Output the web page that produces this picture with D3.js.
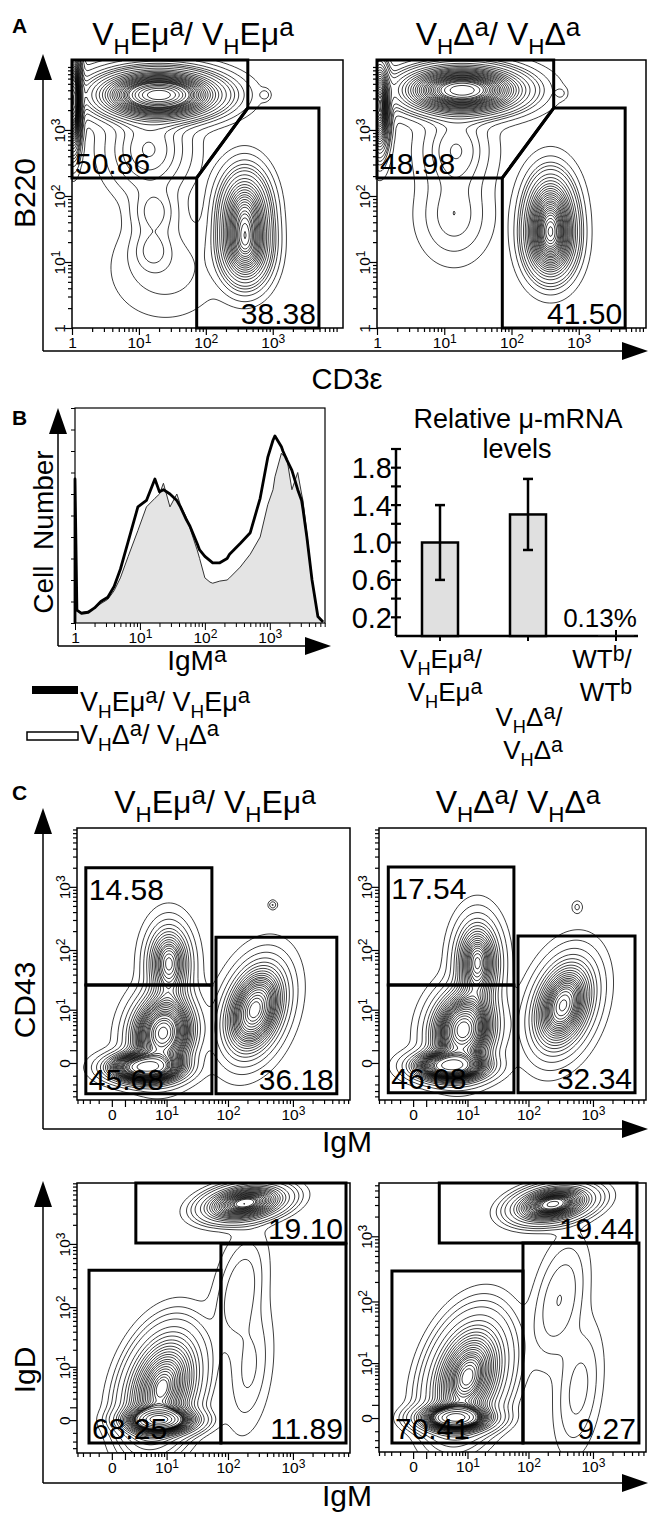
<!DOCTYPE html>
<html>
<head>
<meta charset="utf-8">
<script src="https://cdn.jsdelivr.net/npm/d3@7"></script>
<style>
  body { margin: 0; background: #fff; }
  svg { display: block; }
  text { font-family: "Liberation Sans", Arial, Helvetica, sans-serif; fill: #000; }
</style>
</head>
<body>
<div id="fig"></div>
<script>
// ---------------- data ----------------
// populations: [x value, y value, spread x (decades), spread y (decades), weight, correlation]
var popsA_emu = [
  [20, 3400, 0.48, 0.19, 1.0, 0],
  [1.05, 2800, 0.06, 0.38, 0.22, 0],
  [14, 500, 0.35, 0.38, 0.12, 0],
  [17, 57, 0.2, 0.22, 0.024, 0],
  [16, 15, 0.18, 0.2, 0.016, 0],
  [25, 8, 0.5, 0.45, 0.05, 0],
  [380, 55, 0.2, 0.34, 0.34, 0],
  [390, 16, 0.2, 0.3, 0.3, 0],
  [760, 3400, 0.05, 0.05, 0.0006, 0]
];
var popsA_delta = [
  [18.5, 4000, 0.48, 0.19, 0.95, 0],
  [1.1, 2200, 0.08, 0.36, 0.2, 0],
  [15, 500, 0.3, 0.35, 0.08, 0],
  [14, 50, 0.3, 0.38, 0.06, 0],
  [380, 50, 0.2, 0.35, 0.38, 0],
  [380, 19, 0.2, 0.3, 0.3, 0],
  [540, 3600, 0.05, 0.05, 0.0006, 0]
];
// gates as polygons in data units (1e6 = top edge of the plot)
var gatesA = [
  [[1, 1e6], [424, 1e6], [424, 2150], [73, 188], [1, 188]],
  [[73, 188], [424, 2150], [4900, 2150], [4900, 1], [73, 1]]
];
var pctA_emu = ["50.86", "38.38"];
var pctA_delta = ["48.98", "41.50"];

// histogram IgM^a
var igmaBins   = [1, 1.07, 1.26, 1.6, 2, 2.5, 3.2, 4, 5, 6.6, 9.3, 12.6, 17, 20, 23, 29, 37, 42, 52, 59, 76, 83, 100, 120, 132, 170, 220, 240, 350, 500, 710, 930, 1120, 1200, 1510, 1590, 1820, 2190, 2690, 3090, 3240, 3720, 4470, 5500, 6600];
var histEmu    = [67, 6, 4.5, 5, 7, 10, 12, 17, 25, 38, 54, 57, 67, 61, 62, 60, 57, 54, 48, 45, 37, 34, 31, 29, 28, 28, 30, 32, 37, 42, 58, 77, 85, 87, 82, 80, 76, 71, 62, 57, 53, 40, 20, 3, 0.5];
var histDelta  = [67, 6, 5, 5.5, 7, 9, 11, 15, 21, 31, 43, 54, 58, 60, 65, 54, 60, 55, 49, 44, 34, 30, 21, 19, 18.5, 19.5, 20, 21, 26, 32, 40, 55, 62, 68, 79, 78, 77, 62, 70, 60, 57, 42, 20, 3, 0.5];

// relative mu-mRNA
var mrnaGroups = ["VHEmu", "VHDelta", "WT"];
var mrnaLabels = [["V_HEμ^a/", "V_HEμ^a"], ["V_HΔ^a/", "V_HΔ^a"], ["WT^b/", "WT^b"]];
var mrnaMean = [1.0, 1.3, 0.0013];
var mrnaErr = [0.4, 0.38, 0];
var mrnaTicks = [0.2, 0.6, 1.0, 1.4, 1.8];

// panel C: CD43 vs IgM
var popsC1 = [
  [8.6, 3.3, 0.28, 0.35, 0.42, 0.1],
  [3.7, -0.3, 0.32, 0.13, 0.22, 0],
  [11, 62, 0.2, 0.35, 0.15, 0],
  [260, 10, 0.28, 0.42, 0.36, 0.3],
  [490, 520, 0.04, 0.04, 0.0005, 0]
];
var popsC2 = [
  [8.3, 3.9, 0.28, 0.35, 0.4, 0.1],
  [4.6, -0.2, 0.32, 0.13, 0.2, 0],
  [15, 64, 0.2, 0.38, 0.18, 0],
  [345, 12, 0.28, 0.42, 0.32, 0.3],
  [570, 480, 0.05, 0.06, 0.0005, 0]
];
var gatesC1 = [
  [[-2.55, 27], [56, 27], [56, 2000], [-2.55, 2000]],
  [[-2.55, -3.5], [56, -3.5], [56, 27], [-2.55, 27]],
  [[65, -3.5], [4700, -3.5], [4700, 160], [65, 160]]
];
var gatesC2 = [
  [[-2.4, 27], [59, 27], [59, 2060], [-2.4, 2060]],
  [[-2.4, -3.3], [59, -3.3], [59, 27], [-2.4, 27]],
  [[68.5, -3.3], [4450, -3.3], [4450, 167], [68.5, 167]]
];
var pctC1 = ["14.58", "45.68", "36.18"];
var pctC2 = ["17.54", "46.08", "32.34"];

// panel C: IgD vs IgM
var popsC3 = [
  [8.2, 3.7, 0.32, 0.48, 0.55, 0.3],
  [7.6, 0, 0.3, 0.11, 0.2, 0],
  [183, 4400, 0.34, 0.15, 0.2, 0.3],
  [150, 180, 0.25, 0.55, 0.03, 0.4],
  [215, 9, 0.22, 0.6, 0.022, 0.3]
];
var popsC4 = [
  [10, 5.5, 0.32, 0.48, 0.55, 0.3],
  [5.8, 0, 0.3, 0.11, 0.2, 0],
  [240, 3100, 0.32, 0.15, 0.2, 0.3],
  [300, 105, 0.25, 0.55, 0.03, 0.4],
  [600, 3, 0.22, 0.6, 0.022, 0.3]
];
var gatesC3 = [
  [[2.26, 1e6], [6500, 1e6], [6500, 1034], [2.26, 1034]],
  [[-2.1, -2.2], [77.6, -2.2], [77.6, 386], [-2.1, 386]],
  [[77.6, -2.2], [6500, -2.2], [6500, 1000], [77.6, 1000]]
];
var gatesC4 = [
  [[2.6, 1e6], [4774, 1e6], [4774, 787], [2.6, 787]],
  [[-1.9, -2.4], [82, -2.4], [82, 294], [-1.9, 294]],
  [[82, -2.4], [5117, -2.4], [5117, 787], [82, 787]]
];
var pctC3 = ["19.10", "68.25", "11.89"];
var pctC4 = ["19.44", "70.41", "9.27"];

var logTicks = [1, 2, 3, 4, 5, 6, 7, 8, 9, 10, 20, 30, 40, 50, 60, 70, 80, 90,
  100, 200, 300, 400, 500, 600, 700, 800, 900, 1000, 2000, 3000, 4000, 5000, 6000, 7000, 8000, 9000];
var symTicks = [-4, -3, -2, -1, 0].concat(logTicks);

// ---------------- drawing ----------------
var W = 649, H = 1517;
var svg = d3.select("#fig").append("svg").attr("width", W).attr("height", H);
var probLevels = d3.range(1, 28).map(function (i) { return i * 0.035; }).concat([0.975, 0.993]);
var clipN = 0;

function rich(parent, x, y, str, size, anchor) {
  var t = parent.append("text").attr("x", x).attr("y", y)
    .attr("font-size", size).attr("text-anchor", anchor || "start");
  var toks = [], i = 0;
  while (i < str.length) {
    var c = str[i];
    if (c === "_" || c === "^") { toks.push({ k: c === "_" ? "sub" : "sup", s: str[i + 1] }); i += 2; }
    else {
      if (toks.length && toks[toks.length - 1].k === "n") toks[toks.length - 1].s += c;
      else toks.push({ k: "n", s: c });
      i++;
    }
  }
  var shift = 0;
  toks.forEach(function (tk) {
    var target = tk.k === "sub" ? 0.27 * size : tk.k === "sup" ? -0.28 * size : 0;
    t.append("tspan").attr("dy", target - shift)
      .attr("font-size", tk.k === "sub" ? size * 0.7 : tk.k === "sup" ? size * 0.82 : size)
      .text(tk.s);
    shift = target;
  });
  return t;
}

function arrows(x, yTop, yBot, xRight) {
  var g = svg.append("g");
  g.append("line").attr("x1", x).attr("y1", yTop + 20).attr("x2", x).attr("y2", yBot)
    .attr("stroke", "#000").attr("stroke-width", 1.5);
  g.append("line").attr("x1", x).attr("y1", yBot).attr("x2", xRight - 20).attr("y2", yBot)
    .attr("stroke", "#000").attr("stroke-width", 1.5);
  g.append("path").attr("d", "M" + x + "," + yTop + "L" + (x - 9) + "," + (yTop + 26) + "L" + (x + 9) + "," + (yTop + 26) + "Z");
  g.append("path").attr("d", "M" + xRight + "," + yBot + "L" + (xRight - 26) + "," + (yBot - 9) + "L" + (xRight - 26) + "," + (yBot + 9) + "Z");
}

var expo = { 10: "1", 100: "2", 1000: "3" };
function isMajor(d) { return d === 0 || d === 1 || d === 10 || d === 100 || d === 1000; }
// "10" with a real superscript tspan
function powerLabels(sel) {
  sel.selectAll(".tick text").each(function (d) {
    if (!expo[d]) return;
    var t = d3.select(this).text("10");
    t.append("tspan").attr("dy", "-0.45em").attr("font-size", "78%").text(expo[d]);
  });
}

function facs(spec) {
  var xs = spec.x.clamp(true), ys = spec.y.clamp(true);
  var fx0 = xs.range()[0], fx1 = xs.range()[1], fy1 = ys.range()[0], fy0 = ys.range()[1];
  var g = svg.append("g");
  var clipId = "clip" + (clipN++);
  g.append("clipPath").attr("id", clipId).append("rect")
    .attr("x", fx0).attr("y", fy0).attr("width", fx1 - fx0).attr("height", fy1 - fy0);

  // density grid from the population table
  var step = 2, nx = Math.ceil((fx1 - fx0) / step), ny = Math.ceil((fy1 - fy0) / step);
  var vals = new Float64Array(nx * ny);
  spec.pops.forEach(function (p) {
    var cx = xs(p[0]), cy = ys(p[1]), sx = p[2] * spec.ppd, sy = p[3] * spec.ppd, w = p[4], r = p[5] || 0;
    var norm = w / (sx * sy * Math.sqrt(1 - r * r));
    for (var j = 0; j < ny; j++) {
      var dy = -((fy0 + (j + 0.5) * step) - cy) / sy;
      for (var i = 0; i < nx; i++) {
        var dx = ((fx0 + (i + 0.5) * step) - cx) / sx;
        var q = (dx * dx - 2 * r * dx * dy + dy * dy) / (1 - r * r);
        if (q < 80) vals[j * nx + i] += norm * Math.exp(-q / 2);
      }
    }
  });
  var sorted = Array.from(vals).sort(function (a, b) { return b - a; });
  var total = d3.sum(sorted), cum = 0, k = 0, th = [];
  probLevels.forEach(function (f) {
    while (k < sorted.length && cum < f * total) { cum += sorted[k++]; }
    th.push(sorted[Math.max(0, k - 1)]);
  });
  th.sort(function (a, b) { return a - b; });
  var contours = d3.contours().size([nx, ny]).thresholds(th)(vals);
  var path = d3.geoPath(d3.geoIdentity().scale(step).translate([fx0, fy0]));
  g.append("g").attr("clip-path", "url(#" + clipId + ")")
    .selectAll("path").data(contours).join("path")
    .attr("d", path).attr("fill", "none").attr("stroke", "#000").attr("stroke-width", 0.75);

  // frame
  g.append("rect").attr("x", fx0).attr("y", fy0).attr("width", fx1 - fx0).attr("height", fy1 - fy0)
    .attr("fill", "none").attr("stroke", "#000").attr("stroke-width", 1.5);

  // gates
  spec.gates.forEach(function (gate, gi) {
    var pts = gate.map(function (p) { return [xs(p[0]), ys(p[1])]; });
    g.append("path").attr("d", "M" + pts.join("L") + "Z")
      .attr("fill", "none").attr("stroke", "#000").attr("stroke-width", 3).attr("stroke-linejoin", "miter");
    var minX = d3.min(pts, function (p) { return p[0]; }), maxX = d3.max(pts, function (p) { return p[0]; });
    var minY = d3.min(pts, function (p) { return p[1]; }), maxY = d3.max(pts, function (p) { return p[1]; });
    var c = spec.corners[gi], t = g.append("text").attr("font-size", 30).text(spec.pct[gi]);
    if (c === "bl") t.attr("x", minX + 3).attr("y", maxY - 4);
    else if (c === "br") t.attr("x", maxX - 3).attr("y", maxY - 4).attr("text-anchor", "end");
    else if (c === "tl") t.attr("x", minX + 3).attr("y", minY + 32);
  });

  // axes
  var ticks = spec.ticks.filter(function (d) { var v = xs.domain(); return d >= v[0] && d <= v[1] && d < 10000; });
  var fmt = function (d) { return isMajor(d) ? (d === 0 ? "0" : (spec.sym && d === 1 ? "" : String(d))) : ""; };
  var ax = g.append("g").attr("transform", "translate(0," + fy1 + ")")
    .call(d3.axisBottom(xs).tickValues(ticks).tickSize(4).tickFormat(fmt));
  ax.select(".domain").remove();
  ax.attr("font-family", null).attr("font-size", 15.5);
  ax.selectAll(".tick").filter(isMajor).select("line").attr("y2", 7);
  ax.selectAll("text").attr("y", 9);
  powerLabels(ax);
  var yticks = spec.ticks.filter(function (d) { var v = ys.domain(); return d >= v[0] && d <= v[1] && d < 10000; });
  var ay = g.append("g").attr("transform", "translate(" + fx0 + ",0)")
    .call(d3.axisLeft(ys).tickValues(yticks).tickSize(4).tickFormat(fmt));
  ay.select(".domain").remove();
  ay.attr("font-family", null).attr("font-size", 15.5);
  ay.selectAll(".tick").filter(isMajor).select("line").attr("x2", -7);
  ay.selectAll("text").attr("x", 0).attr("y", -7).attr("dy", 0)
    .attr("text-anchor", "middle").attr("transform", "rotate(-90)");
  powerLabels(ay);
  g.selectAll(".tick line").attr("stroke-width", 1.2);
  return g;
}

// ---------------- panel A ----------------
svg.append("text").attr("x", 12).attr("y", 33).attr("font-size", 21).attr("font-weight", "bold").text("A");
rich(svg, 193, 45, "V_HEμ^a/ V_HEμ^a", 32, "middle");
rich(svg, 498, 45, "V_HΔ^a/ V_HΔ^a", 32, "middle");
arrows(43, 54, 351, 648);
facs({
  x: d3.scaleLog().domain([1, Math.pow(10, 4.05)]).range([72, 343]),
  y: d3.scaleLog().domain([1, Math.pow(10, 4.06)]).range([328, 60]),
  ppd: 66.5, pops: popsA_emu, gates: gatesA, pct: pctA_emu, corners: ["bl", "br"], ticks: logTicks
});
facs({
  x: d3.scaleLog().domain([1, Math.pow(10, 4.0)]).range([377, 646]),
  y: d3.scaleLog().domain([1, Math.pow(10, 4.06)]).range([328, 60]),
  ppd: 66.5, pops: popsA_delta, gates: gatesA, pct: pctA_delta, corners: ["bl", "br"], ticks: logTicks
});
svg.append("text").attr("transform", "translate(35,193) rotate(-90)").attr("text-anchor", "middle")
  .attr("font-size", 30).text("B220");
svg.append("text").attr("x", 347).attr("y", 389).attr("text-anchor", "middle").attr("font-size", 29).text("CD3ε");

// ---------------- panel B: histogram ----------------
svg.append("text").attr("x", 12).attr("y", 425).attr("font-size", 21).attr("font-weight", "bold").text("B");
arrows(58, 408, 646, 331);
var xsH = d3.scaleLog().domain([1, Math.pow(10, 3.85)]).range([75, 325]);
var ysH = d3.scaleLinear().domain([0, 100]).range([623, 408]);
var hg = svg.append("g");
var thinPts = [[igmaBins[0], 0]].concat(d3.zip(igmaBins, histDelta));
var thickPts = [[igmaBins[0], 0]].concat(d3.zip(igmaBins, histEmu));
hg.append("path").datum(thinPts)
  .attr("d", d3.area().x(function (d) { return xsH(d[0]); }).y0(ysH(0)).y1(function (d) { return ysH(d[1]); }))
  .attr("fill", "#e4e4e4");
hg.append("path").datum(thinPts)
  .attr("d", d3.line().x(function (d) { return xsH(d[0]); }).y(function (d) { return ysH(d[1]); }))
  .attr("fill", "none").attr("stroke", "#333").attr("stroke-width", 1);
hg.append("path").datum(thickPts)
  .attr("d", d3.line().x(function (d) { return xsH(d[0]); }).y(function (d) { return ysH(d[1]); }))
  .attr("fill", "none").attr("stroke", "#000").attr("stroke-width", 2.8).attr("stroke-linejoin", "round");
hg.append("rect").attr("x", 75).attr("y", 408).attr("width", 250).attr("height", 215)
  .attr("fill", "none").attr("stroke", "#000").attr("stroke-width", 1.2);
var hax = hg.append("g").attr("transform", "translate(0,623)")
  .call(d3.axisBottom(xsH).tickValues(logTicks.filter(function (d) { return d < 7079; })).tickSize(4)
    .tickFormat(function (d) { return isMajor(d) ? String(d) : ""; }));
hax.select(".domain").remove();
hax.attr("font-family", null).attr("font-size", 15.5);
hax.selectAll(".tick").filter(isMajor).select("line").attr("y2", 7);
hax.selectAll("text").attr("y", 9);
powerLabels(hax);
var hay = hg.append("g").attr("transform", "translate(75,0)")
  .call(d3.axisLeft(ysH).ticks(10).tickSize(4).tickFormat(""));
hay.select(".domain").remove();
svg.append("text").attr("transform", "translate(53,532) rotate(-90)").attr("text-anchor", "middle")
  .attr("font-size", 28).text("Cell\u00a0\u00a0Number");
rich(svg, 197, 670, "IgM^a", 28, "middle");
// legend
svg.append("rect").attr("x", 32).attr("y", 686).attr("width", 46).attr("height", 8).attr("fill", "#000");
rich(svg, 80, 711, "V_HEμ^a/ V_HEμ^a", 27, "start");
svg.append("rect").attr("x", 27).attr("y", 732).attr("width", 51).attr("height", 8)
  .attr("fill", "#fff").attr("stroke", "#000").attr("stroke-width", 1.5);
rich(svg, 80, 744, "V_HΔ^a/ V_HΔ^a", 27, "start");

// ---------------- panel B: bar chart ----------------
var xsB = d3.scalePoint().domain(mrnaGroups).range([440, 616]);
var ysB = d3.scaleLinear().domain([0, 2]).range([636, 449]);
var bg = svg.append("g");
bg.append("text").attr("x", 518).attr("y", 428).attr("text-anchor", "middle").attr("font-size", 27).text("Relative μ-mRNA");
bg.append("text").attr("x", 517).attr("y", 458).attr("text-anchor", "middle").attr("font-size", 27).text("levels");
bg.append("line").attr("x1", 396).attr("x2", 396).attr("y1", ysB(0)).attr("y2", ysB(2))
  .attr("stroke", "#000").attr("stroke-width", 2.5);
bg.selectAll("line.yt").data(d3.range(1, 11).map(function (i) { return i * 0.2; })).join("line").attr("class", "yt")
  .attr("x1", 391).attr("x2", 401).attr("y1", function (d) { return ysB(d); }).attr("y2", function (d) { return ysB(d); })
  .attr("stroke", "#000").attr("stroke-width", 2.2);
bg.selectAll("text.yl").data(mrnaTicks).join("text").attr("class", "yl")
  .attr("x", 392).attr("y", function (d) { return ysB(d); }).attr("dy", "0.36em")
  .attr("text-anchor", "end").attr("font-size", 29).text(d3.format(".1f"));
bg.append("line").attr("x1", 396).attr("x2", 638).attr("y1", ysB(0)).attr("y2", ysB(0))
  .attr("stroke", "#000").attr("stroke-width", 2.5);
bg.selectAll("line.xt").data(mrnaGroups).join("line").attr("class", "xt")
  .attr("x1", xsB).attr("x2", xsB).attr("y1", ysB(0) - 6).attr("y2", ysB(0) + 5)
  .attr("stroke", "#000").attr("stroke-width", 2);
bg.selectAll("rect.bar").data(mrnaGroups).join("rect").attr("class", "bar")
  .attr("x", function (d) { return xsB(d) - 18; }).attr("width", 36)
  .attr("y", function (d, i) { return ysB(mrnaMean[i]); })
  .attr("height", function (d, i) { return ysB(0) - ysB(mrnaMean[i]); })
  .attr("fill", "#e0e0e0")
  .attr("stroke", function (d, i) { return ysB(0) - ysB(mrnaMean[i]) > 2 ? "#000" : "none"; })
  .attr("stroke-width", 2.5);
mrnaGroups.forEach(function (grp, i) {
  if (!mrnaErr[i]) return;
  var x = xsB(grp), lo = ysB(mrnaMean[i] - mrnaErr[i]), hi = ysB(mrnaMean[i] + mrnaErr[i]);
  bg.append("line").attr("x1", x).attr("x2", x).attr("y1", lo).attr("y2", hi).attr("stroke", "#000").attr("stroke-width", 2.5);
  [lo, hi].forEach(function (y) {
    bg.append("line").attr("x1", x - 5).attr("x2", x + 5).attr("y1", y).attr("y2", y).attr("stroke", "#000").attr("stroke-width", 2.5);
  });
});
bg.append("text").attr("x", 600).attr("y", 627).attr("text-anchor", "middle").attr("font-size", 26)
  .text(d3.format(".2%")(mrnaMean[2]));
mrnaGroups.forEach(function (grp, i) {
  var x = Math.min(xsB(grp) + 1, 602), y0 = i === 1 ? 726 : 668;
  rich(bg, x, y0, mrnaLabels[i][0], 26, "middle");
  rich(bg, x + 4, y0 + 33, mrnaLabels[i][1], 26, "middle");
});

// ---------------- panel C ----------------
svg.append("text").attr("x", 12).attr("y", 800).attr("font-size", 21).attr("font-weight", "bold").text("C");
rich(svg, 215, 813, "V_HEμ^a/ V_HEμ^a", 32, "middle");
rich(svg, 518, 813, "V_HΔ^a/ V_HΔ^a", 32, "middle");
arrows(43, 808, 1129, 648);
arrows(43, 1181, 1483, 648);
var cornersC = ["tl", "bl", "br"], cornersC2 = ["br", "bl", "br"];
facs({
  x: d3.scaleSymlog().constant(1.7).domain([-4.1, 7480]).range([77, 350]),
  y: d3.scaleSymlog().constant(1.7).domain([-4.8, 8440]).range([1100, 828]),
  ppd: 62, pops: popsC1, gates: gatesC1, pct: pctC1, corners: cornersC, ticks: symTicks, sym: true
});
facs({
  x: d3.scaleSymlog().constant(1.7).domain([-4, 6570]).range([379, 646]),
  y: d3.scaleSymlog().constant(1.7).domain([-4.8, 8440]).range([1100, 828]),
  ppd: 62, pops: popsC2, gates: gatesC2, pct: pctC2, corners: cornersC, ticks: symTicks, sym: true
});
facs({
  x: d3.scaleSymlog().constant(1.7).domain([-4.1, 7480]).range([77, 350]),
  y: d3.scaleSymlog().constant(1.7).domain([-3.9, 9100]).range([1453, 1183]),
  ppd: 62, pops: popsC3, gates: gatesC3, pct: pctC3, corners: cornersC2, ticks: symTicks, sym: true
});
facs({
  x: d3.scaleSymlog().constant(1.7).domain([-4, 6570]).range([379, 646]),
  y: d3.scaleSymlog().constant(1.7).domain([-3.9, 6500]).range([1452, 1183]),
  ppd: 62, pops: popsC4, gates: gatesC4, pct: pctC4, corners: cornersC2, ticks: symTicks, sym: true
});
svg.append("text").attr("transform", "translate(35,1000) rotate(-90)").attr("text-anchor", "middle")
  .attr("font-size", 30).text("CD43");
svg.append("text").attr("x", 347).attr("y", 1152).attr("text-anchor", "middle").attr("font-size", 30).text("IgM");
svg.append("text").attr("transform", "translate(35,1370) rotate(-90)").attr("text-anchor", "middle")
  .attr("font-size", 30).text("IgD");
svg.append("text").attr("x", 347).attr("y", 1506).attr("text-anchor", "middle").attr("font-size", 30).text("IgM");
</script>
</body>
</html>
